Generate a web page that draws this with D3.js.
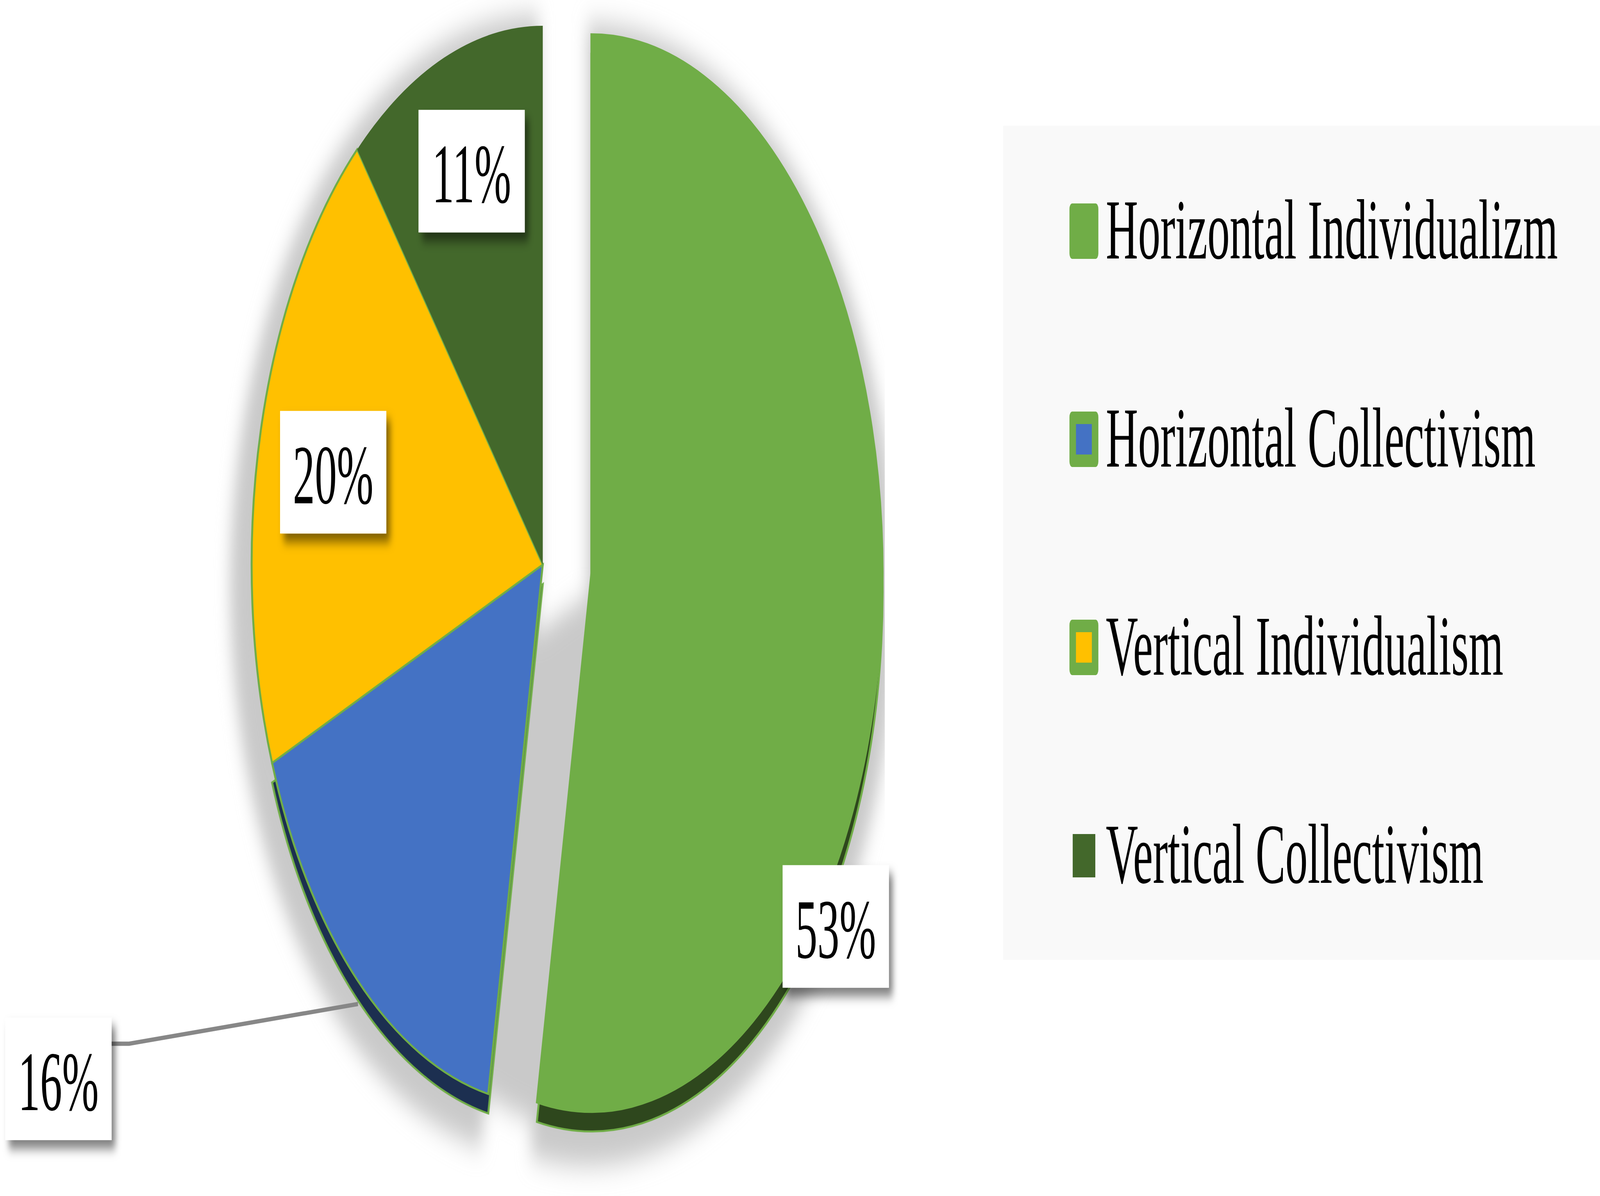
<!DOCTYPE html>
<html lang="en">
<head>
    <meta charset="UTF-8">
    <title>Individualism / Collectivism pie</title>
    <script src="https://d3js.org/d3.v7.min.js"></script>
    <style>
        html, body {
          margin: 0;
          padding: 0;
          background: #fff;
          overflow: hidden;
        }
        svg {
          display: block;
          width: 100vw;
          height: 100vh;
        }
        .pct, .legend-text {
          font-family: "Times New Roman", "Liberation Serif", serif;
          fill: #000;
        }
    </style>
</head>
<body>
<div id="chart"></div>

<script>
    // data
    const categories = ["Horizontal Individualizm", "Horizontal Collectivism", "Vertical Individualism", "Vertical Collectivism"];
    const shares = [53, 16, 20, 11];
    const shareLabels = ["53%", "16%", "20%", "11%"];
    const sliceColors = ["#70AD47", "#4472C4", "#FFC000", "#43682B"];
    const sliceOutlined = [true, true, true, false];

    const W = 7859, H = 3063;

    // pie geometry (slightly squashed ellipse)
    const cx = 2666, cy = 1446, rx = 1430, ry = 1380, k = ry / rx;
    const explodeDist = 240;
    const rimDepth = 50;
    const outline = "#70AD47";

    const rows = categories.map((c, i) => ({
        name: c, value: shares[i], label: shareLabels[i],
        color: sliceColors[i], outlined: sliceOutlined[i]
    }));

    const pie = d3.pie().sort(null).value(d => d.value);
    const arcs = pie(rows);
    const arc = d3.arc().innerRadius(0).outerRadius(rx);

    const mid = d => (d.startAngle + d.endAngle) / 2;
    // only the first slice is pulled out
    function offset(d) {
        const dist = d.index === 0 ? explodeDist : 0;
        return [dist * Math.sin(mid(d)), -dist * Math.cos(mid(d)) * k];
    }
    function center(d) {
        const o = offset(d);
        return [cx + o[0], cy + o[1]];
    }
    function pointOn(d, angle, f) {
        const c = center(d);
        return [c[0] + rx * f * Math.sin(angle), c[1] - ry * f * Math.cos(angle)];
    }

    // where each percentage box sits (angle in degrees, fraction of radius)
    const deg = Math.PI / 180;
    const labelLayout = [
        { angle: 128 * deg, f: 1.065 },
        { box: [287, 2763], leader: true },
        { angle: 283.4 * deg, f: 0.74 },
        { angle: 341.5 * deg, f: 0.77 }
    ];

    const svg = d3.select("#chart").append("svg")
        .attr("viewBox", `0 0 ${W} ${H}`)
        .attr("preserveAspectRatio", "none");

    const defs = svg.append("defs");
    defs.append("filter")
        .attr("id", "softShadow")
        .attr("filterUnits", "userSpaceOnUse")
        .attr("x", -500).attr("y", -500).attr("width", W + 1000).attr("height", H + 1000)
        .append("feGaussianBlur").attr("stdDeviation", 35);

    const boxShadow = defs.append("filter")
        .attr("id", "boxShadow")
        .attr("x", "-30%").attr("y", "-30%").attr("width", "160%").attr("height", "160%");
    boxShadow.append("feDropShadow")
        .attr("dx", 18).attr("dy", 22).attr("stdDeviation", 14)
        .attr("flood-color", "#000").attr("flood-opacity", 0.5);

    defs.append("clipPath").attr("id", "plotClip")
        .append("rect").attr("x", 0).attr("y", 0).attr("width", 4345).attr("height", H);

    // legend background
    svg.append("rect")
        .attr("x", 4927).attr("y", 322)
        .attr("width", W - 4927).attr("height", 2136)
        .attr("fill", "#f9f9f9");

    // soft shadow under the pie
    const shadowG = svg.append("g")
        .attr("clip-path", "url(#plotClip)")
        .append("g")
        .attr("filter", "url(#softShadow)")
        .attr("fill", "#c9c9c9");

    shadowG.selectAll("path.sh")
        .data(arcs)
        .join("path")
        .attr("class", "sh")
        .attr("d", arc)
        .attr("transform", d => {
            const c = center(d);
            return `translate(${c[0] - 20},${c[1] + 55}) scale(1.06,${1.06 * k})`;
        });

    // shadow filling the gap left by the exploded slice
    const gapOff = offset(arcs[0]);
    shadowG.append("path")
        .attr("d", arc(arcs[1]))
        .attr("transform", `translate(${cx + gapOff[0]},${cy + gapOff[1] + rimDepth}) scale(1,${k})`);

    // 3d side of the front facing slices
    const frontSlices = arcs.filter(d => mid(d) > Math.PI / 2 && mid(d) < Math.PI * 1.5);
    svg.append("g").selectAll("path")
        .data(frontSlices)
        .join("path")
        .attr("d", arc)
        .attr("transform", d => {
            const c = center(d);
            return `translate(${c[0]},${c[1] + rimDepth}) scale(1,${k})`;
        })
        .attr("fill", d => d3.color(d.data.color).darker(2.5))
        .attr("stroke", outline)
        .attr("stroke-width", 5)
        .attr("vector-effect", "non-scaling-stroke");

    // slice tops
    svg.append("g").selectAll("path")
        .data(arcs)
        .join("path")
        .attr("d", arc)
        .attr("transform", d => {
            const c = center(d);
            return `translate(${c[0]},${c[1]}) scale(1,${k})`;
        })
        .attr("fill", d => d.data.color)
        .attr("stroke", d => d.data.outlined ? outline : "none")
        .attr("stroke-width", 5)
        .attr("vector-effect", "non-scaling-stroke");

    // percentage labels
    const boxW = 522, boxH = 314;
    const labelPos = arcs.map(d => {
        const L = labelLayout[d.index];
        return L.box ? L.box : pointOn(d, L.angle, L.f);
    });

    arcs.forEach(d => {
        const L = labelLayout[d.index];
        if (!L.leader) return;
        const p = labelPos[d.index];
        const end = pointOn(d, mid(d), 1);
        const x0 = p[0] + boxW / 2, y0 = p[1] - 90;
        svg.append("path")
            .attr("d", d3.line()([[x0 - 10, y0], [x0 + 86, y0], [end[0] + 4, end[1] + rimDepth + 12]]))
            .attr("fill", "none")
            .attr("stroke", "#878787")
            .attr("stroke-width", 11);
    });

    const labels = svg.append("g").selectAll("g")
        .data(arcs)
        .join("g")
        .attr("transform", d => `translate(${labelPos[d.index][0]},${labelPos[d.index][1]})`);

    labels.append("rect")
        .attr("x", -boxW / 2).attr("y", -boxH / 2)
        .attr("width", boxW).attr("height", boxH)
        .attr("fill", "#fff")
        .attr("filter", "url(#boxShadow)");

    labels.append("text")
        .attr("class", "pct")
        .attr("text-anchor", "middle")
        .attr("y", 80)
        .attr("font-size", 216)
        .text(d => d.data.label);

    // legend
    const legendX = 5253, legendY0 = 592, legendStep = 533, mk = 142;
    const items = svg.append("g").selectAll("g")
        .data(rows)
        .join("g")
        .attr("transform", (d, i) => `translate(${legendX},${legendY0 + i * legendStep})`);

    items.filter(d => d.outlined).append("rect")
        .attr("x", 0).attr("y", -mk / 2)
        .attr("width", mk).attr("height", mk)
        .attr("rx", 14)
        .attr("fill", outline);
    items.filter(d => d.outlined).append("rect")
        .attr("x", 32).attr("y", -39)
        .attr("width", 78).attr("height", 78)
        .attr("fill", d => d.color);
    items.filter(d => !d.outlined).append("rect")
        .attr("x", 16).attr("y", -55)
        .attr("width", 111).attr("height", 111)
        .attr("fill", d => d.color);

    items.append("text")
        .attr("class", "legend-text")
        .attr("x", 179)
        .attr("y", 70)
        .attr("font-size", 219)
        .text(d => d.name);
</script>
</body>
</html>
